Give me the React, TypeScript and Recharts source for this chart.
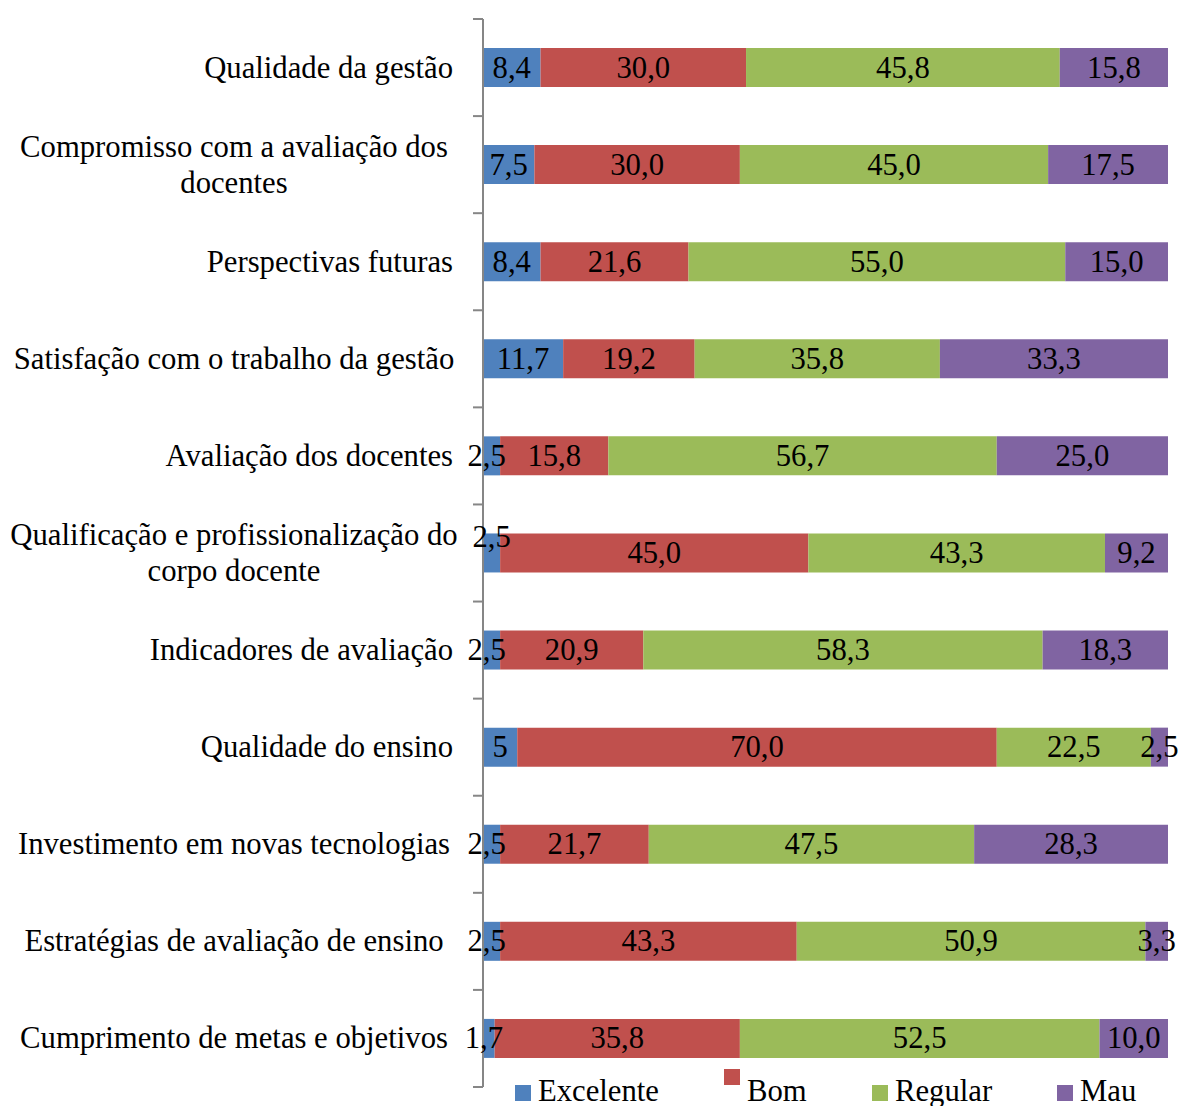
import { BarChart, Bar, XAxis, YAxis, LabelList } from "recharts";

/* ── data ─────────────────────────────────────────────────── */
const categories = [
  "Qualidade da gestão",
  "Compromisso com a avaliação dos\ndocentes",
  "Perspectivas futuras",
  "Satisfação com o trabalho da gestão",
  "Avaliação dos docentes",
  "Qualificação e profissionalização do\ncorpo docente",
  "Indicadores de avaliação",
  "Qualidade do ensino",
  "Investimento em novas tecnologias",
  "Estratégias de avaliação de ensino",
  "Cumprimento de metas e objetivos",
];
const excelente = [8.4, 7.5, 8.4, 11.7, 2.5, 2.5, 2.5, 5, 2.5, 2.5, 1.7];
const bom = [30.0, 30.0, 21.6, 19.2, 15.8, 45.0, 20.9, 70.0, 21.7, 43.3, 35.8];
const regular = [45.8, 45.0, 55.0, 35.8, 56.7, 43.3, 58.3, 22.5, 47.5, 50.9, 52.5];
const mau = [15.8, 17.5, 15.0, 33.3, 25.0, 9.2, 18.3, 2.5, 28.3, 3.3, 10.0];

const series = [
  { key: "excelente", name: "Excelente", color: "#4F81BD" },
  { key: "bom", name: "Bom", color: "#C0504D" },
  { key: "regular", name: "Regular", color: "#9BBB59" },
  { key: "mau", name: "Mau", color: "#8064A2" },
];

const rows = categories.map((cat, i) => ({
  cat,
  excelente: excelente[i],
  bom: bom[i],
  regular: regular[i],
  mau: mau[i],
}));

const FONT = "'Liberation Serif', 'Times New Roman', serif";
const FS = 30.7;
const AXIS = "#868686";
const WRAP_CENTER = 234; // centre of the label block when Excel wraps/centres

function fmt(v: number) {
  if (Number.isInteger(v) && v < 10) return String(v);
  return v.toFixed(1).replace(".", ",");
}

/* ── category ticks (labels + boundary tick marks) ────────── */
function CatTick(props: any) {
  const { x, y, payload, index } = props;
  const axisX = x + 30;
  const half = payload.offset || 0;
  const lines = String(payload.value).split("\n");
  const centred = lines.length > 1 || lines[0].length >= 30;
  const last = index === categories.length - 1;
  return (
    <g>
      <line x1={axisX - 10} x2={axisX} y1={y - half} y2={y - half} stroke={AXIS} strokeWidth={2} />
      {last && <line x1={axisX - 10} x2={axisX} y1={y + half} y2={y + half} stroke={AXIS} strokeWidth={2} />}
      <text
        x={centred ? WRAP_CENTER : x}
        y={y}
        textAnchor={centred ? "middle" : "end"}
        fontFamily={FONT}
        fontSize={FS}
        fill="#000"
      >
        {lines.map((l, i) => (
          <tspan key={i} x={centred ? WRAP_CENTER : x} y={y - 18 * (lines.length - 1) + 36 * i + 10}>
            {l}
          </tspan>
        ))}
      </text>
    </g>
  );
}

function SegLabel(props: any) {
  const { x, y, width, height, value, index, first } = props;
  // Excel nudged the thin first-segment labels: row 6 sits above the bar, the rest slightly left
  const up = first && index === 5 ? 16 : 0;
  const left = first && index !== 5 && value < 3 ? 5 : 0;
  return (
    <text
      x={x + width / 2 - left}
      y={y + height / 2 - up}
      dy={10}
      textAnchor="middle"
      fontFamily={FONT}
      fontSize={FS}
      fill="#000"
    >
      {fmt(value)}
    </text>
  );
}

/* ── chart ────────────────────────────────────────────────── */
export default function App() {
  return (
    <div style={{ position: "absolute", left: 0, top: 0, width: 1181, height: 1106, background: "#fff" }}>
      <BarChart
        width={1181}
        height={1106}
        data={rows}
        layout="vertical"
        barSize={39}
        margin={{ top: 19, right: 13, bottom: 19, left: 0 }}
      >
        <XAxis type="number" domain={[0, 100]} hide />
        <YAxis
          type="category"
          dataKey="cat"
          width={483}
          axisLine={{ stroke: AXIS, strokeWidth: 2 }}
          tickLine={false}
          tickSize={0}
          tickMargin={30}
          interval={0}
          tick={<CatTick />}
        />
        {series.map((s) => (
          <Bar key={s.key} dataKey={s.key} name={s.name} stackId="a" fill={s.color} isAnimationActive={false}>
            <LabelList
              dataKey={s.key}
              content={(p: any) => <SegLabel {...p} first={s.key === "excelente"} />}
            />
          </Bar>
        ))}
      </BarChart>
      {series.map((s, i) => {
        const left = [515, 724, 872, 1057][i];
        const sqTop = s.key === "bom" ? 1069 : 1085;
        return (
          <div key={s.key}>
            <div style={{ position: "absolute", left, top: sqTop, width: 16, height: 16, background: s.color }} />
            <div
              style={{
                position: "absolute",
                left: left + 23,
                top: 1074,
                fontFamily: FONT,
                fontSize: FS,
                lineHeight: "34px",
                color: "#000",
                whiteSpace: "nowrap",
              }}
            >
              {s.name}
            </div>
          </div>
        );
      })}
    </div>
  );
}
